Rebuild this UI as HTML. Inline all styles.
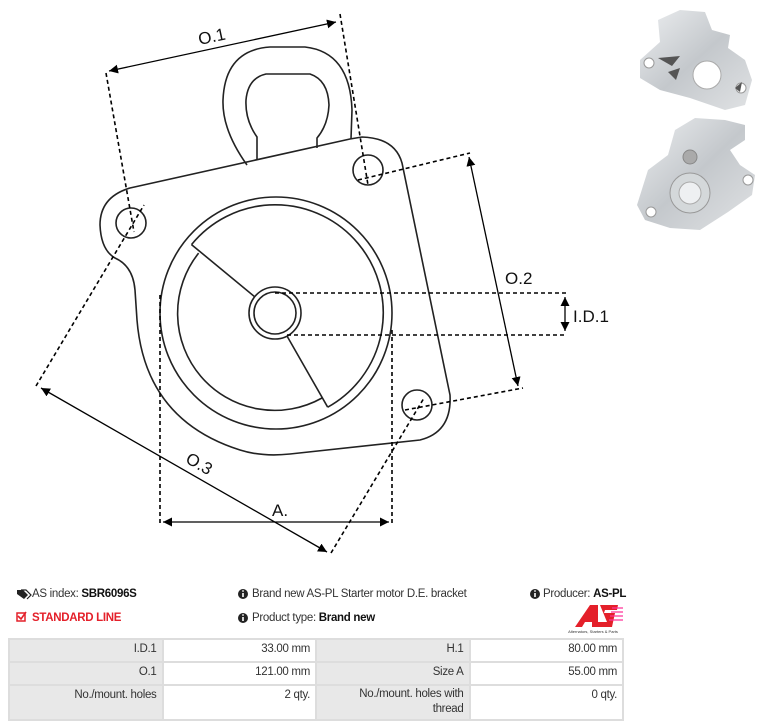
<!DOCTYPE html>
<html><head><meta charset="utf-8"><style>
body{margin:0;width:769px;height:726px;background:#fff;position:relative;overflow:hidden;font-family:"Liberation Sans",sans-serif;}
.t{position:absolute;font-size:11.5px;color:#333;white-space:nowrap;letter-spacing:-0.3px}
table{position:absolute;left:8px;top:638px;border-collapse:collapse;font-size:11.5px;color:#333;letter-spacing:-0.3px;table-layout:fixed;width:616px}
td{border:2px solid #ddd;text-align:right;padding:3px 5px 0 5px;vertical-align:top;height:18px}
td.l{background:#e8e8e8}
</style></head><body>
<svg width="769" height="726" style="position:absolute;left:0;top:0" xmlns="http://www.w3.org/2000/svg">
<defs>
<marker id="a" viewBox="0 0 10 10" refX="10" refY="5" markerWidth="9" markerHeight="9" orient="auto-start-reverse" markerUnits="userSpaceOnUse"><path d="M0,0L10,5L0,10z" fill="#000"/></marker>
<linearGradient id="g" x1="0" y1="0" x2="1" y2="1"><stop offset="0" stop-color="#eceef0"/><stop offset="0.5" stop-color="#c4c8cc"/><stop offset="1" stop-color="#e0e2e4"/></linearGradient>
</defs>
<g fill="none" stroke="#222" stroke-width="1.6">
<path d="M350,139 L130,188 Q100,197 100,225 Q101,250 115,258 Q133,266 135,290 L137,320 Q145,420 240,450 Q262,457 290,454 L420,440 Q452,432 450,395 L402,163 Q395,138 362,137 Z"/>
<path d="M247,165 Q222,130 223,100 Q225,50 270,47 L305,47 Q350,52 352,110 L351,139"/>
<path d="M257,160 L257,137 Q245,120 246,100 Q248,78 266,74 L310,74 Q328,80 329,105 Q328,125 317,138 L317,148"/>
<circle cx="131" cy="223" r="15"/><circle cx="368" cy="170" r="15"/><circle cx="417" cy="405" r="15"/>
<circle cx="276" cy="313" r="116"/>
<path d="M191.5,244.6 A108,108 0 1 1 327.7,407.2"/>
<path d="M322,398 A97,97 0 0 1 198.6,253.1"/>
<path d="M191.5,244.6 L255,297 M287,336 L327.7,407.2"/>
<circle cx="275" cy="313" r="26"/><circle cx="275" cy="313" r="21"/>
</g>
<g fill="none" stroke="#000" stroke-width="1.6" stroke-dasharray="4,3">
<path d="M106,73 L134,232 M340,14 L368,185"/>
<path d="M358,180 L470,153 M405,410 L523,388"/>
<path d="M36,386 L144,205 M331,553 L424,398"/>
<path d="M275,293 L567,293 M287,335 L567,335"/>
<path d="M160,295 L160,523 M392,330 L392,523"/>
</g>
<g stroke="#000" stroke-width="1.3" fill="none">
<line x1="109" y1="71" x2="336" y2="22" marker-start="url(#a)" marker-end="url(#a)"/>
<line x1="469" y1="157" x2="518" y2="386" marker-start="url(#a)" marker-end="url(#a)"/>
<line x1="41" y1="388" x2="327" y2="552" marker-start="url(#a)" marker-end="url(#a)"/>
<line x1="163" y1="522" x2="389" y2="522" marker-start="url(#a)" marker-end="url(#a)"/>
<line x1="565" y1="297" x2="565" y2="331" marker-start="url(#a)" marker-end="url(#a)"/>
</g>
<g font-family="Liberation Sans,sans-serif" font-size="17" fill="#111">
<text x="198" y="42" transform="rotate(-12 213 36)">O.1</text>
<text x="505" y="284">O.2</text>
<text x="185" y="470" transform="rotate(30 200 465)">O.3</text>
<text x="272" y="516">A.</text>
<text x="573" y="322">I.D.1</text>
</g>
<!-- photos -->
<path d="M640,60 L660,42 L658,20 L680,10 L705,12 L712,30 L730,35 L728,48 L745,60 L752,80 L745,105 L725,110 L690,98 L660,90 L640,78 Z" fill="url(#g)"/>
<circle cx="707" cy="75" r="14" fill="#fff" stroke="#aaa"/><circle cx="649" cy="63" r="5" fill="#fff" stroke="#999"/><circle cx="741" cy="88" r="5" fill="#fff" stroke="#999"/>
<path d="M658,58 L680,56 L672,66 Z M668,72 L680,68 L676,80 Z M735,88 L742,82 L740,92 Z" fill="#555"/>
<path d="M648,170 L668,155 L675,130 L695,118 L725,120 L745,125 L745,140 L730,150 L740,165 L755,175 L752,195 L728,212 L700,230 L670,228 L645,220 L637,205 Z" fill="url(#g)"/>
<circle cx="690" cy="193" r="20" fill="#d4d8da" stroke="#999"/><circle cx="690" cy="193" r="11" fill="#eef0f2" stroke="#aaa"/><circle cx="690" cy="157" r="7" fill="#aaa" stroke="#888"/>
<circle cx="748" cy="180" r="5" fill="#fff" stroke="#999"/><circle cx="651" cy="212" r="5" fill="#fff" stroke="#999"/>
<!-- logo -->
<path d="M575,627 L590,605 L598,605 L598,627 L592,627 L592,622 L585,622 L582,627 Z" fill="#e4202a"/>
<path d="M600,605 L618,605 L617,610 L605,610 L604,613 L615,613 L612,627 L595,627 L596,622 L607,622 Z" fill="#e4202a"/>
<path d="M612,608 H623 M611,612 H623 M610,616 H623 M609,620 H623" stroke="#f39" stroke-width="1.2"/>
<text x="593" y="633" font-size="4" text-anchor="middle" fill="#333" font-family="Liberation Sans">Alternators, Starters &amp; Parts</text>
<!-- icons -->
<path d="M17,590 L23,590 L28,595 L24,599 L17,594 Z" fill="#222"/><path d="M21,590 L26,590 L31,595 L27,599" fill="none" stroke="#222" stroke-width="1.2"/>
<rect x="17" y="613" width="8" height="8" fill="none" stroke="#e4202a" stroke-width="1.5"/><path d="M18,616 L21,619 L26,612" fill="none" stroke="#e4202a" stroke-width="1.6"/>
<g fill="#222"><circle cx="243" cy="594" r="5"/><circle cx="243" cy="618" r="5"/><circle cx="535" cy="594" r="5"/></g>
<g fill="#fff"><rect x="242.2" y="593" width="1.6" height="4"/><circle cx="243" cy="591" r="0.9"/><rect x="242.2" y="617" width="1.6" height="4"/><circle cx="243" cy="615" r="0.9"/><rect x="534.2" y="593" width="1.6" height="4"/><circle cx="535" cy="591" r="0.9"/></g>
</svg>
<div class="t" style="left:32px;top:588px">AS index: <b style="color:#111">SBR6096S</b></div>
<div class="t" style="left:252px;top:588px">Brand new AS-PL Starter motor D.E. bracket</div>
<div class="t" style="left:543px;top:588px">Producer: <b style="color:#111">AS-PL</b></div>
<div class="t" style="left:32px;top:612px;color:#e4202a;font-weight:bold">STANDARD LINE</div>
<div class="t" style="left:252px;top:612px">Product type: <b style="color:#111">Brand new</b></div>
<table>
<tr><td class="l">I.D.1</td><td>33.00 mm</td><td class="l">H.1</td><td>80.00 mm</td></tr>
<tr><td class="l">O.1</td><td>121.00 mm</td><td class="l">Size A</td><td>55.00 mm</td></tr>
<tr><td class="l" style="height:30px">No./mount. holes</td><td>2 qty.</td><td class="l" style="line-height:15px;padding-top:1px">No./mount. holes with<br>thread</td><td>0 qty.</td></tr>
</table>
</body></html>
